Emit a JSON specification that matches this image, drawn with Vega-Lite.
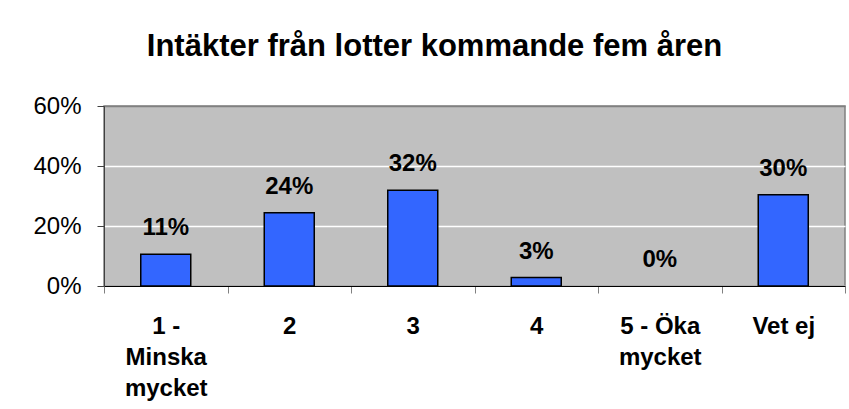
{
  "$schema": "https://vega.github.io/schema/vega-lite/v6.json",
  "width": 741,
  "height": 180,
  "autosize": {"type": "none"},
  "padding": {"left": 104, "top": 106, "right": 4, "bottom": 123},
  "background": "white",
  "title": {
    "text": "Intäkter från lotter kommande fem åren",
    "font": "Liberation Sans",
    "fontSize": 31,
    "fontWeight": "bold",
    "color": "black",
    "anchor": "middle",
    "dx": -40,
    "offset": 31
  },
  "data": {
    "values": [
      {"kategori": "1 - Minska mycket", "andel": 0.106},
      {"kategori": "2", "andel": 0.244},
      {"kategori": "3", "andel": 0.319},
      {"kategori": "4", "andel": 0.028},
      {"kategori": "5 - Öka mycket", "andel": 0.0},
      {"kategori": "Vet ej", "andel": 0.304}
    ]
  },
  "encoding": {
    "x": {
      "field": "kategori",
      "type": "nominal",
      "sort": null,
      "scale": {"paddingInner": 0, "paddingOuter": 0},
      "axis": {
        "title": null,
        "labelAngle": 0,
        "tickBand": "extent",
        "tickSize": 7,
        "tickColor": "#808080",
        "domainColor": "black",
        "domainWidth": 1,
        "labelFont": "Liberation Sans",
        "labelFontSize": 24,
        "labelFontWeight": "bold",
        "labelColor": "black",
        "labelPadding": 21,
        "labelLineHeight": 31,
        "labelBaseline": "top",
        "labelExpr": "datum.value == '1 - Minska mycket' ? ['1 -', 'Minska', 'mycket'] : datum.value == '5 - Öka mycket' ? ['5 - Öka', 'mycket'] : datum.value"
      }
    },
    "y": {
      "field": "andel",
      "type": "quantitative",
      "scale": {"domain": [0, 0.6], "nice": false},
      "axis": {
        "title": null,
        "values": [0, 0.2, 0.4, 0.6],
        "format": ".0%",
        "tickSize": 7,
        "tickColor": "#404040",
        "domainColor": "#404040",
        "labelFont": "Liberation Sans",
        "labelFontSize": 24,
        "labelColor": "black",
        "labelPadding": 16,
        "gridColor": {"condition": {"test": "datum.value >= 0.6", "value": "#808080"}, "value": "white"},
        "gridWidth": 1.5
      }
    }
  },
  "layer": [
    {
      "mark": {"type": "bar", "size": 50, "color": "#3366FF", "stroke": "black", "strokeWidth": 1.5},
      "encoding": {
        "strokeOpacity": {"condition": {"test": "datum.andel == 0", "value": 0}, "value": 1}
      }
    },
    {
      "mark": {
        "type": "text",
        "baseline": "alphabetic",
        "dy": -19,
        "font": "Liberation Sans",
        "fontSize": 24,
        "fontWeight": "bold",
        "color": "black"
      },
      "encoding": {
        "text": {"field": "andel", "type": "quantitative", "format": ".0%"}
      }
    }
  ],
  "config": {
    "view": {"fill": "#C0C0C0", "stroke": "#808080", "strokeWidth": 1.5}
  }
}
